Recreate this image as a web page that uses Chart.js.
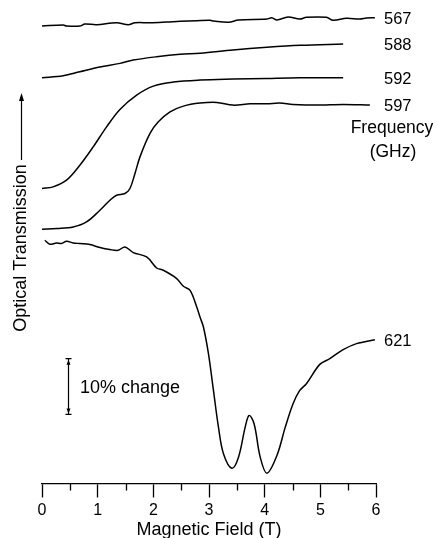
<!DOCTYPE html>
<html>
<head>
<meta charset="utf-8">
<script src="https://cdn.jsdelivr.net/npm/chart.js@4/dist/chart.umd.min.js"></script>
<style>
html,body{margin:0;padding:0;background:#fff;}
canvas{display:block;}
</style>
</head>
<body>
<canvas id="c" width="438" height="538"></canvas>
<script>
// Magnetic field (T) and optical transmission (arbitrary offset units) for each frequency trace
const field567 = [0,0.38,0.44,0.68,0.77,0.98,1.34,1.55,1.67,1.94,2.24,2.48,2.78,3.02,3.08,3.35,3.53,4.04,4.13,4.22,4.42,4.63,4.75,5.11,5.23,5.47,5.71,5.83,5.98];
const trans567 = [457,458,457,457,459,458.3,460.3,458.3,460.3,460.3,461,461.7,462.3,462.7,462,460.7,463,464,465.3,463,466,464,465.7,465.7,462.7,464.7,464,465,465.3];

const field588 = [0,0.38,0.68,1.04,1.40,1.64,2.06,2.48,2.84,3.43,4.04,4.64,5.41];
const trans588 = [405.3,407.3,411.3,416,419.7,423,426.3,428.7,429.7,433,435.7,437.7,439];

const field592 = [0,0.20,0.44,0.68,0.92,1.16,1.40,1.70,2.00,2.36,2.84,3.43,4.04,4.63,5.41];
const trans592 = [294.7,296.3,303,318,336.3,356.3,373.7,388,397,401,403,404,404.7,405.3,405.3];

const field597 = [0,0.27,0.56,0.80,1.04,1.22,1.34,1.49,1.58,1.67,1.76,1.94,2.09,2.30,2.54,2.84,3.14,3.43,3.74,4.04,4.27,4.51,4.94,5.41,5.89];
const trans597 = [254,254.7,256.3,261.3,273,283,288,289.7,294.7,309.7,326.3,349.7,361.3,371.3,377,380,380.7,378,379.3,379.3,380,378.7,378,378.7,378];

const field621 = [0.05,0.14,0.26,0.35,0.44,0.56,0.68,0.86,1.04,1.22,1.37,1.49,1.64,1.88,2.06,2.18,2.42,2.54,2.66,2.78,2.84,2.90,2.99,3.08,3.17,3.26,3.41,3.53,3.65,3.72,3.81,3.92,4.04,4.22,4.37,4.51,4.63,4.75,4.99,5.17,5.41,5.65,5.98];
const trans621 = [243,239,240.3,239.7,242,240.3,239.7,238.7,235.7,233.7,233,236.3,230.7,226.3,215.3,213,204.7,197,193,176.3,166,156.3,129.7,93,56.3,29.7,15.3,26.3,56.3,68,59.7,26.3,10.3,28,56.3,79.7,93,99.7,119,124.7,133.7,139.7,143.7];

const frequencies = ['567','588','592','597','621'];
const xTicks = [0,1,2,3,4,5,6];
const minorTicks = [0.5,1.5,2.5,3.5,4.5,5.5];
const scaleBar = [69, 124.7]; // 10% change

const FONT = '"Liberation Sans", Arial, sans-serif';
const fields = [field567, field588, field592, field597, field621];
const trans = [trans567, trans588, trans592, trans597, trans621];

const datasets = frequencies.map((f, i) => ({
  label: f,
  data: fields[i].map((x, j) => ({x: x, y: trans[i][j]})),
  borderColor: '#000',
  borderWidth: 1.5,
  pointRadius: 0,
  fill: false,
  tension: 0.35
}));

const decor = {
  id: 'decor',
  afterDraw(chart) {
    const ctx = chart.ctx;
    const xs = chart.scales.x, ys = chart.scales.y;
    const area = chart.chartArea;
    ctx.save();
    ctx.strokeStyle = '#000';
    ctx.fillStyle = '#000';
    // minor ticks
    ctx.lineWidth = 1.3;
    minorTicks.forEach(v => {
      const px = Math.round(xs.getPixelForValue(v)) + 0.5;
      ctx.beginPath();
      ctx.moveTo(px, area.bottom);
      ctx.lineTo(px, area.bottom + 7);
      ctx.stroke();
    });
    // curve labels
    ctx.font = '16.5px ' + FONT;
    ctx.textAlign = 'left';
    ctx.textBaseline = 'middle';
    const lx = xs.getPixelForValue(6) + 8;
    frequencies.forEach((f, i) => {
      const t = trans[i];
      ctx.fillText(f, lx, ys.getPixelForValue(t[t.length - 1]) + 1.5);
    });
    ctx.font = '17.5px ' + FONT;
    ctx.textAlign = 'center';
    ctx.fillText('Frequency', 392, 128);
    ctx.fillText('(GHz)', 393, 152);
    // scale bar
    const bx = 68.5;
    const yt = ys.getPixelForValue(scaleBar[1]);
    const yb = ys.getPixelForValue(scaleBar[0]);
    ctx.lineWidth = 1.2;
    ctx.beginPath();
    ctx.moveTo(bx, yt); ctx.lineTo(bx, yb);
    ctx.moveTo(bx - 3, yt); ctx.lineTo(bx + 3, yt);
    ctx.moveTo(bx - 3, yb); ctx.lineTo(bx + 3, yb);
    ctx.stroke();
    ctx.beginPath();
    ctx.moveTo(bx, yt + 1); ctx.lineTo(bx - 2, yt + 6); ctx.lineTo(bx + 2, yt + 6); ctx.closePath();
    ctx.moveTo(bx, yb - 1); ctx.lineTo(bx - 2, yb - 6); ctx.lineTo(bx + 2, yb - 6); ctx.closePath();
    ctx.fill();
    ctx.font = '18px ' + FONT;
    ctx.textAlign = 'left';
    ctx.fillText('10% change', 80, (yt + yb) / 2 + 1);
    // y-axis label with arrow
    ctx.lineWidth = 1.2;
    ctx.beginPath();
    ctx.moveTo(21.5, 160); ctx.lineTo(21.5, 97);
    ctx.stroke();
    ctx.beginPath();
    ctx.moveTo(21.5, 93); ctx.lineTo(19, 101); ctx.lineTo(24, 101); ctx.closePath();
    ctx.fill();
    ctx.translate(21, 248);
    ctx.rotate(-Math.PI / 2);
    ctx.font = '18px ' + FONT;
    ctx.textAlign = 'center';
    ctx.fillText('Optical Transmission', 0, 0);
    ctx.restore();
  }
};

new Chart(document.getElementById('c'), {
  type: 'line',
  data: { datasets: datasets },
  options: {
    responsive: false,
    animation: false,
    layout: { padding: { left: 42, right: 62, top: 0, bottom: 0 } },
    plugins: { legend: { display: false }, tooltip: { enabled: false } },
    scales: {
      x: {
        type: 'linear', min: 0, max: 6,
        afterBuildTicks: s => { s.ticks = xTicks.map(v => ({value: v})); },
        ticks: { color: '#000', font: { size: 16, family: FONT }, padding: 3, maxRotation: 0 },
        grid: { drawOnChartArea: false, drawTicks: true, tickLength: 14, tickColor: '#000', tickWidth: 1.3 },
        border: { display: true, color: '#000', width: 1.3 },
        title: { display: true, text: 'Magnetic Field (T)', color: '#000', font: { size: 18, family: FONT, lineHeight: 0.85 }, padding: { top: 0, bottom: 0 } }
      },
      y: { display: false, min: 0, max: 483 }
    }
  },
  plugins: [decor]
});
</script>
</body>
</html>
